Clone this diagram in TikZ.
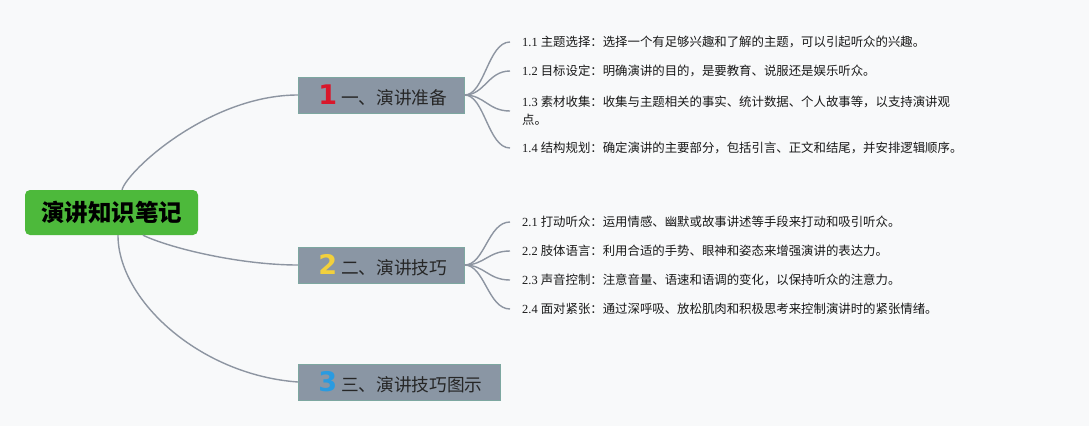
\documentclass[tikz,border=0pt]{standalone}
\usepackage{fontspec}
\setmainfont{Liberation Serif}
\newfontfamily\cjk{Noto Sans CJK SC}
\newfontfamily\numfont{DejaVu Sans}
\usepackage{xcolor}
\usepackage{tikz}

\definecolor{bg}{HTML}{F8F9FA}
\definecolor{rootgreen}{HTML}{4DB93B}
\definecolor{branchfill}{HTML}{8A96A4}
\definecolor{branchline}{HTML}{7DA7A0}
\definecolor{linkgray}{HTML}{8D95A1}
\definecolor{numred}{HTML}{D9172B}
\definecolor{numyellow}{HTML}{F2D03C}
\definecolor{numblue}{HTML}{2A9BE0}

\begin{document}
\begin{tikzpicture}[x=1pt, y=-1pt,
    root/.style={fill=rootgreen, rounded corners=5pt, minimum width=173pt, minimum height=45pt,
      inner sep=0pt, font=\cjk\bfseries\fontsize{23.5}{26}\selectfont},
    branch/.style={anchor=west, fill=branchfill, draw=branchline, line width=0.6pt,
      minimum height=36pt, inner xsep=15pt, inner ysep=0pt, align=left,
      font=\cjk\fontsize{17.7}{20}\selectfont, text=black!85},
    leaf/.style={anchor=west, inner xsep=12pt, inner ysep=0pt, align=left,
      font=\fontsize{12.4}{18}\selectfont, text=black!90},
    link/.style={draw=linkgray, line width=1.4pt}]
    \fill[bg] (0,0) rectangle (1089,426);

    % main topic and the three sections
    \node[root] (root) at (111.5,212.5) {演讲知识笔记};
    \node[branch, text width=136pt] (b1) at (298,95) {\hspace{5pt}{\numfont\bfseries\fontsize{27}{27}\selectfont\color{numred}1}\hspace{4pt}一、演讲准备};
    \node[branch, text width=136pt] (b2) at (298,265) {\hspace{5pt}{\numfont\bfseries\fontsize{27}{27}\selectfont\color{numyellow}2}\hspace{4pt}二、演讲技巧};
    \node[branch, text width=172pt] (b3) at (298,382) {\hspace{5pt}{\numfont\bfseries\fontsize{27}{27}\selectfont\color{numblue}3}\hspace{4pt}三、演讲技巧图示};

    \draw[link] ([xshift=10.5pt]root.north) .. controls +(6,-20) and +(-88,0) .. (b1.west);
    \draw[link] ([xshift=31.5pt]root.south) .. controls +(27,13) and +(-58,0) .. (b2.west);
    \draw[link] ([xshift=6.5pt]root.south) .. controls +(0,65) and +(-98,-7) .. (b3.west);

    % section 1
    \node[leaf] (l11) at (510,42) {1.1 {\cjk 主题选择：选择一个有足够兴趣和了解的主题，可以引起听众的兴趣。}};
    \node[leaf] (l12) at (510,71) {1.2 {\cjk 目标设定：明确演讲的目的，是要教育、说服还是娱乐听众。}};
    \node[leaf] (l13) at (510,111) {1.3 {\cjk 素材收集：收集与主题相关的事实、统计数据、个人故事等，以支持演讲观}\\{\cjk 点。}};
    \node[leaf] (l14) at (510,148) {1.4 {\cjk 结构规划：确定演讲的主要部分，包括引言、正文和结尾，并安排逻辑顺序。}};
    \foreach \l in {l11,l12,l13,l14}
      \draw[link] (b1.east) .. controls +(20,0) and +(-22,0) .. (\l.west);

    % section 2
    \node[leaf] (l21) at (510,222) {2.1 {\cjk 打动听众：运用情感、幽默或故事讲述等手段来打动和吸引听众。}};
    \node[leaf] (l22) at (510,251) {2.2 {\cjk 肢体语言：利用合适的手势、眼神和姿态来增强演讲的表达力。}};
    \node[leaf] (l23) at (510,280) {2.3 {\cjk 声音控制：注意音量、语速和语调的变化，以保持听众的注意力。}};
    \node[leaf] (l24) at (510,309) {2.4 {\cjk 面对紧张：通过深呼吸、放松肌肉和积极思考来控制演讲时的紧张情绪。}};
    \foreach \l in {l21,l22,l23,l24}
      \draw[link] (b2.east) .. controls +(20,0) and +(-22,0) .. (\l.west);
  \end{tikzpicture}
\end{document}
